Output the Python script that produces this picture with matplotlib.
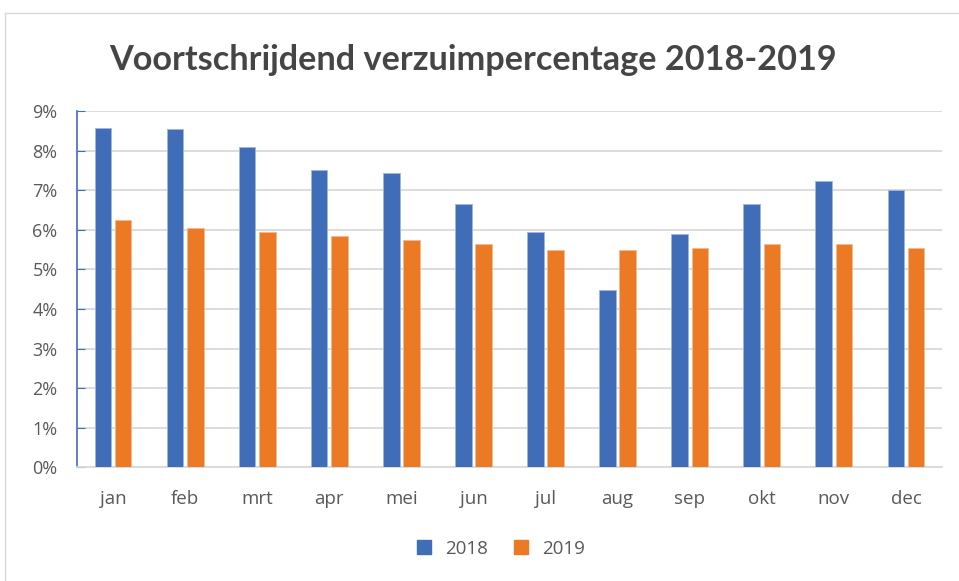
import numpy as np
import matplotlib.pyplot as plt
from matplotlib.lines import Line2D

months = ["jan", "feb", "mrt", "apr", "mei", "jun", "jul", "aug", "sep", "okt", "nov", "dec"]
pct_2018 = [8.58, 8.54, 8.08, 7.52, 7.43, 6.66, 5.95, 4.48, 5.90, 6.66, 7.22, 7.01]
pct_2019 = [6.25, 6.05, 5.95, 5.85, 5.75, 5.65, 5.49, 5.49, 5.54, 5.65, 5.65, 5.54]
years = ["2018", "2019"]

blue = "#3F6DB7"
orange = "#EC7A24"
txt = "#595959"

plt.rcParams['font.family'] = ['Open Sans', 'DejaVu Sans']

fig = plt.figure(figsize=(9.59, 5.81), dpi=100)
ax = fig.add_axes([77 / 959, 1 - 467.3 / 581, (942 - 77) / 959, (467.3 - 111) / 581])

x = np.arange(len(months))
w = 0.23
ax.bar(x - 0.14, pct_2018, w, color=blue, edgecolor="#9db6e0", linewidth=0.6, zorder=3)
ax.bar(x + 0.14, pct_2019, w, color=orange, edgecolor="#f5b98f", linewidth=0.6, zorder=3)

ax.set_xlim(-0.5, len(months) - 0.5)
ax.set_ylim(0, 9)
ax.set_yticks(range(0, 10))
ax.set_yticklabels([f"{i}%" for i in range(0, 10)])
ax.set_xticks(x)
ax.set_xticklabels(months)
ax.grid(axis="y", color="#d9d9d9", linewidth=1.3, zorder=0)
ax.tick_params(axis="x", length=0, pad=16, labelsize=13.5, colors=txt)
ax.tick_params(axis="y", direction="in", length=6, color=blue, pad=14, labelsize=13, colors=txt)
for s in ["top", "right"]:
    ax.spines[s].set_visible(False)
ax.spines["left"].set_color(blue)
ax.spines["left"].set_linewidth(1.2)
ax.spines["bottom"].set_color("#d9d9d9")
ax.spines["bottom"].set_linewidth(1.3)

fig.text(473 / 959, 1 - 60 / 581, "Voortschrijdend verzuimpercentage 2018-2019", ha="center", va="center",
         fontsize=24.7, fontweight="bold", color="#454545", family=["Lato", "DejaVu Sans"])

handles = [Line2D([], [], marker="s", linestyle="", markersize=10, color=c) for c in (blue, orange)]
fig.legend(handles, years, loc="center", bbox_to_anchor=(495 / 959, 1 - 549 / 581), ncol=2, frameon=False,
           fontsize=13.5, handletextpad=0.1, columnspacing=0.8, labelcolor=txt)

# chart border
fig.add_artist(Line2D([5 / 959, 1], [1 - 13 / 581, 1 - 13 / 581], transform=fig.transFigure, color="#d9d9d9", linewidth=1))
fig.add_artist(Line2D([5 / 959, 5 / 959], [0, 1 - 13 / 581], transform=fig.transFigure, color="#d9d9d9", linewidth=1))

fig.savefig("out.png", dpi=100)
